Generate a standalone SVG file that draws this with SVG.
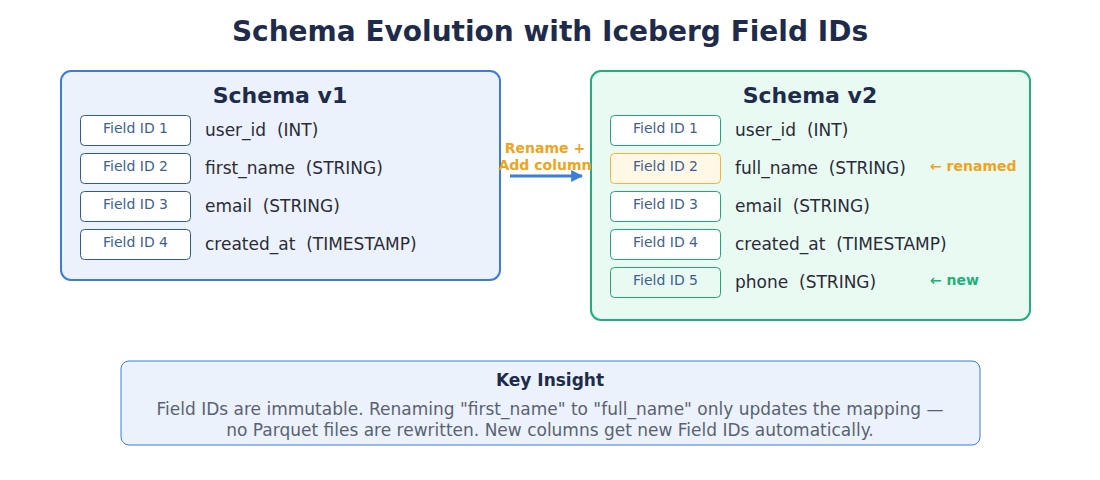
<svg xmlns="http://www.w3.org/2000/svg" width="1100" height="480" viewBox="0 0 1100 480">
<style>
text{font-family:"DejaVu Sans","Liberation Sans",sans-serif;white-space:pre}
.title{font-size:28px;font-weight:bold;fill:#1e2b4b;text-anchor:middle}
.stitle{font-size:22px;font-weight:bold;fill:#1e2b4b;text-anchor:middle}
.fid{font-size:14px;fill:#3d5f95;text-anchor:middle}
.fname{font-size:17px;fill:#2b2b38}
.idbox1{fill:#ffffff;stroke:#2f5b8e;stroke-width:1}
.idbox2{fill:#ffffff;stroke:#23a57c;stroke-width:1}
.tag{font-size:14px;font-weight:bold}
</style>
<defs>
<marker id="arr" viewBox="0 0 10 10" refX="9" refY="5" markerWidth="4" markerHeight="4" orient="auto"><path d="M0,0 L10,5 L0,10 z" fill="#3b7dd8"/></marker>
</defs>
<text class="title" x="550" y="41">Schema Evolution with Iceberg Field IDs</text>

<g id="schema-v1">
<rect x="61" y="71" width="439" height="209" rx="10" fill="#ebf2fb" stroke="#3b7dd8" stroke-width="2"/>
<text class="stitle" x="280" y="103">Schema v1</text>
<rect class="idbox1" x="80.5" y="115.5" width="110" height="30" rx="4"/>
<text class="fid" x="135.5" y="133">Field ID 1</text>
<text class="fname" x="205" y="136" xml:space="preserve">user_id  (INT)</text>
<rect class="idbox1" x="80.5" y="153.5" width="110" height="30" rx="4"/>
<text class="fid" x="135.5" y="171">Field ID 2</text>
<text class="fname" x="205" y="174" xml:space="preserve">first_name  (STRING)</text>
<rect class="idbox1" x="80.5" y="191.5" width="110" height="30" rx="4"/>
<text class="fid" x="135.5" y="209">Field ID 3</text>
<text class="fname" x="205" y="212" xml:space="preserve">email  (STRING)</text>
<rect class="idbox1" x="80.5" y="229.5" width="110" height="30" rx="4"/>
<text class="fid" x="135.5" y="247">Field ID 4</text>
<text class="fname" x="205" y="250" xml:space="preserve">created_at  (TIMESTAMP)</text>
</g>

<g id="schema-v2">
<rect x="591" y="71" width="439" height="249" rx="10" fill="#e9faf2" stroke="#1fae7e" stroke-width="2"/>
<text class="stitle" x="810" y="103">Schema v2</text>
<rect class="idbox2" x="610.5" y="115.5" width="110" height="30" rx="4"/>
<text class="fid" x="665.5" y="133">Field ID 1</text>
<text class="fname" x="735" y="136" xml:space="preserve">user_id  (INT)</text>
<rect x="610.5" y="153.5" width="110" height="30" rx="4" fill="#fff8e7" stroke="#f0b43c" stroke-width="1"/>
<text class="fid" x="665.5" y="171">Field ID 2</text>
<text class="fname" x="735" y="174" xml:space="preserve">full_name  (STRING)</text>
<text class="tag" x="930" y="171" fill="#f0a41e">← renamed</text>
<rect class="idbox2" x="610.5" y="191.5" width="110" height="30" rx="4"/>
<text class="fid" x="665.5" y="209">Field ID 3</text>
<text class="fname" x="735" y="212" xml:space="preserve">email  (STRING)</text>
<rect class="idbox2" x="610.5" y="229.5" width="110" height="30" rx="4"/>
<text class="fid" x="665.5" y="247">Field ID 4</text>
<text class="fname" x="735" y="250" xml:space="preserve">created_at  (TIMESTAMP)</text>
<rect x="610.5" y="267.5" width="110" height="30" rx="4" fill="#e9faf2" stroke="#23a57c" stroke-width="1"/>
<text class="fid" x="665.5" y="285">Field ID 5</text>
<text class="fname" x="735" y="288" xml:space="preserve">phone  (STRING)</text>
<text class="tag" x="930" y="285" fill="#22b07a">← new</text>
</g>

<g id="connectors">
<line x1="510" y1="176" x2="582" y2="176" stroke="#3b7dd8" stroke-width="3" marker-end="url(#arr)"/>
<text class="tag" x="545" y="153" fill="#f0a41e" text-anchor="middle">Rename +</text>
<text class="tag" x="545" y="170" fill="#f0a41e" text-anchor="middle">Add column</text>
</g>

<g id="key-insight">
<rect x="121" y="361" width="859" height="84" rx="8" fill="#ebf2fb" stroke="#3b7dd8" stroke-width="1"/>
<text x="550" y="386" font-size="17" font-weight="bold" fill="#1e2b4b" text-anchor="middle">Key Insight</text>
<text x="550" y="415" font-size="17" fill="#5a6272" text-anchor="middle">Field IDs are immutable. Renaming "first_name" to "full_name" only updates the mapping —</text>
<text x="550" y="436" font-size="17" fill="#5a6272" text-anchor="middle">no Parquet files are rewritten. New columns get new Field IDs automatically.</text>
</g>
</svg>
